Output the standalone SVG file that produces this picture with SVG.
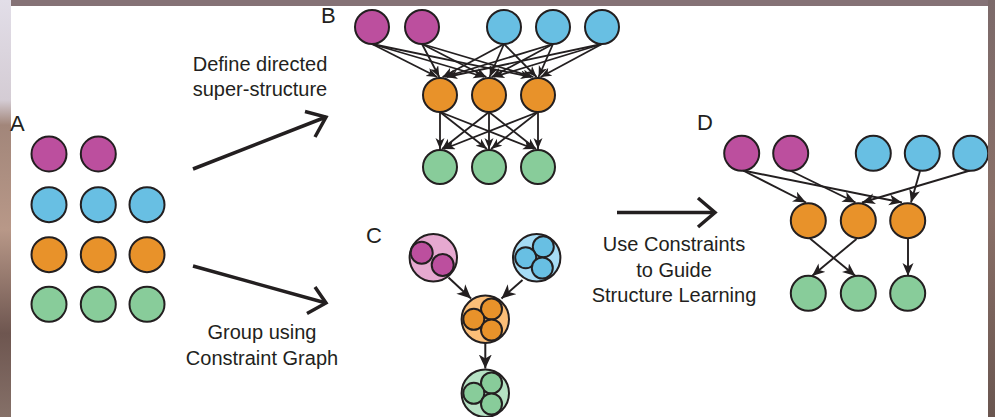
<svg xmlns="http://www.w3.org/2000/svg" width="995" height="417" viewBox="0 0 995 417">
<style>
  .lbl{font-family:"Liberation Sans",Arial,sans-serif;font-size:20px;fill:#231f20;text-anchor:middle}
  .sec{font-family:"Liberation Sans",Arial,sans-serif;font-size:22px;fill:#231f20}
  .n{stroke:#231f20;stroke-width:2}
  .p{fill:#bc4f9e}.b{fill:#68bfe3}.o{fill:#e8922a}.g{fill:#88cc9a}
  .pl{fill:#e6a9d0}.bl{fill:#a6dcf5}.ol{fill:#fbbe78}.gl{fill:#b6e2c4}
  .eb{stroke:#231f20;stroke-width:1.8;fill:none;marker-end:url(#ah)}
  .ec{stroke:#231f20;stroke-width:2;fill:none;marker-end:url(#ahc)}
  .ed{stroke:#231f20;stroke-width:1.9;fill:none;marker-end:url(#ahd)}
  .big{stroke:#231f20;stroke-width:3.5;fill:none;stroke-linejoin:miter}
</style>
<defs>
  <linearGradient id="lstrip" x1="0" y1="0" x2="0" y2="1">
    <stop offset="0" stop-color="#e2dee8"/>
    <stop offset="0.24" stop-color="#d4ccd4"/>
    <stop offset="0.3" stop-color="#a2867a"/>
    <stop offset="0.55" stop-color="#b89888"/>
    <stop offset="0.8" stop-color="#6e5650"/>
    <stop offset="1" stop-color="#857068"/>
  </linearGradient>
  <linearGradient id="rstrip" x1="0" y1="0" x2="0" y2="1">
    <stop offset="0" stop-color="#7c6a6a"/>
    <stop offset="0.5" stop-color="#8a7068"/>
    <stop offset="1" stop-color="#6a5650"/>
  </linearGradient>
  <marker id="ah" markerUnits="userSpaceOnUse" markerWidth="12" markerHeight="10" refX="11" refY="4.5" orient="auto">
    <path d="M0,0 L11,4.5 L0,9 L3,4.5 z" fill="#231f20"/>
  </marker>
  <marker id="ahd" markerUnits="userSpaceOnUse" markerWidth="14" markerHeight="12" refX="13" refY="5.5" orient="auto">
    <path d="M0,0 L13,5.5 L0,11 L3.5,5.5 z" fill="#231f20"/>
  </marker>
  <marker id="ahc" markerUnits="userSpaceOnUse" markerWidth="15" markerHeight="14" refX="14" refY="6.5" orient="auto">
    <path d="M0,0 L14,6.5 L0,13 L4,6.5 z" fill="#231f20"/>
  </marker>
</defs>

<g id="background">
  <rect x="0" y="0" width="995" height="417" fill="#857276"/>
  <rect x="0" y="0" width="11" height="417" fill="url(#lstrip)"/>
  <rect x="11" y="6" width="977" height="411" fill="#ffffff"/>
</g>

<g id="labels">
  <text class="sec" x="10" y="131">A</text>
  <text class="sec" x="321" y="23">B</text>
  <text class="sec" x="366" y="243">C</text>
  <text class="sec" x="697" y="130">D</text>
  <text class="lbl" x="260" y="71">Define directed</text>
  <text class="lbl" x="260" y="96">super-structure</text>
  <text class="lbl" x="262" y="339">Group using</text>
  <text class="lbl" x="262" y="365">Constraint Graph</text>
  <text class="lbl" x="674" y="251">Use Constraints</text>
  <text class="lbl" x="674" y="277">to Guide</text>
  <text class="lbl" x="674" y="302">Structure Learning</text>
</g>

<g id="connectors">
  <path class="big" d="M193,169 L326,117"/>
  <path class="big" d="M305,111.5 L326,117 L315,137"/>
  <path class="big" d="M193,266 L326,303"/>
  <path class="big" d="M315,287 L326,303 L307,313.5"/>
  <path class="big" d="M617,212.5 L715,212.5"/>
  <path class="big" d="M698,198 L715,212.5 L698,227"/>
  <path class="eb" d="M372,44 L437.3,77"/>
  <path class="eb" d="M372,44 L484.3,77"/>
  <path class="eb" d="M372,44 L531.4,77"/>
  <path class="eb" d="M422,44 L439.3,77"/>
  <path class="eb" d="M422,44 L486.3,77"/>
  <path class="eb" d="M422,44 L533.4,77"/>
  <path class="eb" d="M504,44 L442.6,77"/>
  <path class="eb" d="M504,44 L489.6,77"/>
  <path class="eb" d="M504,44 L536.6,77"/>
  <path class="eb" d="M553,44 L444.5,77"/>
  <path class="eb" d="M553,44 L491.6,77"/>
  <path class="eb" d="M553,44 L538.6,77"/>
  <path class="eb" d="M602,44 L446.5,77"/>
  <path class="eb" d="M602,44 L493.5,77"/>
  <path class="eb" d="M602,44 L540.6,77"/>
  <path class="eb" d="M440,112 L440,149"/>
  <path class="eb" d="M440,112 L487,149"/>
  <path class="eb" d="M440,112 L534.1,149"/>
  <path class="eb" d="M489,112 L442,149"/>
  <path class="eb" d="M489,112 L489,149"/>
  <path class="eb" d="M489,112 L536,149"/>
  <path class="eb" d="M538,112 L443.9,149"/>
  <path class="eb" d="M538,112 L491,149"/>
  <path class="eb" d="M538,112 L538,149"/>
  <path class="ec" d="M448.5,277.5 L471,298.5"/>
  <path class="ec" d="M522.5,280 L501.5,298.5"/>
  <path class="ec" d="M485.3,343 L485.3,368.5"/>
  <path class="ed" d="M743,170.5 L806,202.5"/>
  <path class="ed" d="M743,170.5 L902,202.5"/>
  <path class="ed" d="M790,170.5 L855.5,202.5"/>
  <path class="ed" d="M920,171 L911,202.5"/>
  <path class="ed" d="M970,170.5 L862,202.5"/>
  <path class="ed" d="M810,238.5 L855.5,276"/>
  <path class="ed" d="M856.5,239 L812,276"/>
  <path class="ed" d="M908,239 L908,276"/>
</g>

<g id="A">
  <g id="A-p1"><circle class="n p" cx="49" cy="154" r="17.5"/></g>
  <g id="A-p2"><circle class="n p" cx="98.3" cy="154" r="17.5"/></g>
  <g id="A-b1"><circle class="n b" cx="49" cy="204.7" r="17.5"/></g>
  <g id="A-b2"><circle class="n b" cx="98.3" cy="204.7" r="17.5"/></g>
  <g id="A-b3"><circle class="n b" cx="147" cy="204.7" r="17.5"/></g>
  <g id="A-o1"><circle class="n o" cx="49" cy="254.7" r="17.5"/></g>
  <g id="A-o2"><circle class="n o" cx="98.3" cy="254.7" r="17.5"/></g>
  <g id="A-o3"><circle class="n o" cx="147" cy="254.7" r="17.5"/></g>
  <g id="A-g1"><circle class="n g" cx="49" cy="304.3" r="17.5"/></g>
  <g id="A-g2"><circle class="n g" cx="98.3" cy="304.3" r="17.5"/></g>
  <g id="A-g3"><circle class="n g" cx="147" cy="304.3" r="17.5"/></g>
</g>

<g id="B">
  <g id="B-p1"><circle class="n p" cx="372" cy="27" r="17"/></g>
  <g id="B-p2"><circle class="n p" cx="422" cy="27" r="17"/></g>
  <g id="B-b1"><circle class="n b" cx="504" cy="27" r="17"/></g>
  <g id="B-b2"><circle class="n b" cx="553" cy="27" r="17"/></g>
  <g id="B-b3"><circle class="n b" cx="602" cy="27" r="17"/></g>
  <g id="B-o1"><circle class="n o" cx="440" cy="95" r="17"/></g>
  <g id="B-o2"><circle class="n o" cx="489" cy="95" r="17"/></g>
  <g id="B-o3"><circle class="n o" cx="538" cy="95" r="17"/></g>
  <g id="B-g1"><circle class="n g" cx="440" cy="167" r="17"/></g>
  <g id="B-g2"><circle class="n g" cx="489" cy="167" r="17"/></g>
  <g id="B-g3"><circle class="n g" cx="538" cy="167" r="17"/></g>
</g>

<g id="C">
  <g id="C-purple">
    <circle class="n pl" cx="433.3" cy="257.7" r="23.7"/>
    <circle class="n p" cx="421.7" cy="252.7" r="11"/>
    <circle class="n p" cx="442.7" cy="265" r="11"/>
  </g>
  <g id="C-blue">
    <circle class="n bl" cx="536.7" cy="257.7" r="23.7"/>
    <circle class="n b" cx="543.3" cy="246.7" r="10.5"/>
    <circle class="n b" cx="525.7" cy="257.7" r="10.5"/>
    <circle class="n b" cx="542.3" cy="268" r="10.5"/>
  </g>
  <g id="C-orange">
    <circle class="n ol" cx="485.3" cy="319.3" r="23.7"/>
    <circle class="n o" cx="491.5" cy="309" r="10.5"/>
    <circle class="n o" cx="473.8" cy="319.3" r="10.5"/>
    <circle class="n o" cx="491.5" cy="330" r="10.5"/>
  </g>
  <g id="C-green">
    <circle class="n gl" cx="485.3" cy="393.3" r="23.7"/>
    <circle class="n g" cx="491.5" cy="383" r="10.5"/>
    <circle class="n g" cx="473.8" cy="393.3" r="10.5"/>
    <circle class="n g" cx="491.5" cy="404" r="10.5"/>
  </g>
</g>

<g id="D">
  <g id="D-p1"><circle class="n p" cx="741.7" cy="153.3" r="17.5"/></g>
  <g id="D-p2"><circle class="n p" cx="790.7" cy="153.3" r="17.5"/></g>
  <g id="D-b1"><circle class="n b" cx="873.3" cy="153.3" r="17.5"/></g>
  <g id="D-b2"><circle class="n b" cx="922.3" cy="153.3" r="17.5"/></g>
  <g id="D-b3"><circle class="n b" cx="970.7" cy="153.3" r="17.5"/></g>
  <g id="D-o1"><circle class="n o" cx="808.3" cy="220.7" r="17.5"/></g>
  <g id="D-o2"><circle class="n o" cx="858.3" cy="220.7" r="17.5"/></g>
  <g id="D-o3"><circle class="n o" cx="907.7" cy="220.7" r="17.5"/></g>
  <g id="D-g1"><circle class="n g" cx="808.3" cy="293.3" r="17.5"/></g>
  <g id="D-g2"><circle class="n g" cx="858.3" cy="293.3" r="17.5"/></g>
  <g id="D-g3"><circle class="n g" cx="907.7" cy="293.3" r="17.5"/></g>
</g>

<g id="right-edge">
  <rect x="988" y="0" width="7" height="417" fill="url(#rstrip)"/>
</g>
</svg>
